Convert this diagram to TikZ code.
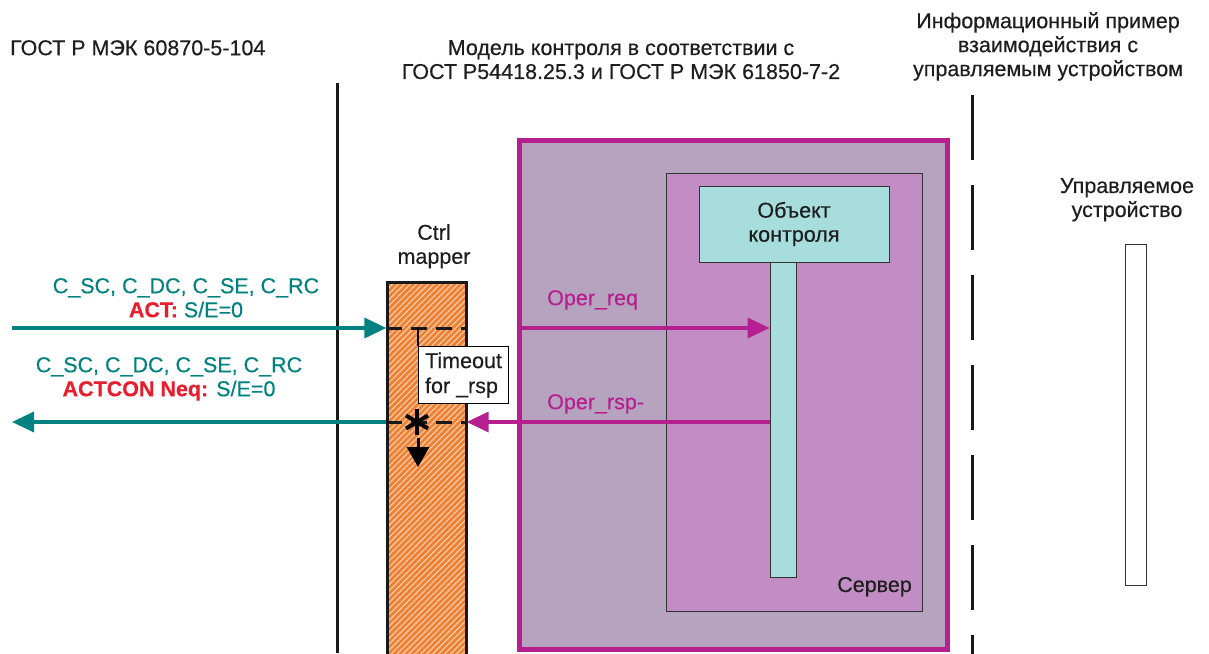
\documentclass[tikz,border=0pt]{standalone}
\usepackage{fontspec}
\setmainfont{Liberation Sans}
\newfontfamily\medfont{Liberation Sans}[FakeBold=0.35]
\usetikzlibrary{arrows.meta,patterns.meta}
\definecolor{tealc}{RGB}{0,130,128}
\definecolor{magc}{RGB}{182,32,142}
\definecolor{redc}{RGB}{230,30,45}
\definecolor{outerfill}{RGB}{181,163,192}
\definecolor{innerfill}{RGB}{194,141,196}
\definecolor{cyanfill}{RGB}{168,221,221}
\definecolor{orangefill}{RGB}{238,128,52}
\definecolor{stripe}{RGB}{250,200,160}
\definecolor{textc}{RGB}{30,30,30}
\tikzset{
  lbl/.style={inner sep=0pt, font=\medfont\fontsize{21.5}{24}\selectfont, text=textc, align=center},
  outerbox/.style={draw=magc, line width=5pt, fill=outerfill, inner sep=0pt},
  innerbox/.style={draw=black!80, line width=1pt, fill=innerfill, inner sep=0pt},
  objbox/.style={draw=black!80, line width=1pt, fill=cyanfill, inner sep=0pt},
  mapperbox/.style={draw=black!90, line width=3pt, inner sep=0pt,
     preaction={fill=orangefill},
     pattern={Lines[angle=45,distance=4.2pt,line width=1.3pt]}, pattern color=stripe},
  devbox/.style={draw=black!80, line width=1pt, fill=white, inner sep=0pt},
  tobox/.style={draw=black, line width=1pt, fill=white, inner sep=0pt, inner xsep=5pt, align=left,
     font=\medfont\fontsize{21.5}{25}\selectfont, text=textc},
  tealarrow/.style={draw=tealc, line width=3.5pt, -{Triangle[length=22pt,width=20pt]}},
  magarrow/.style={draw=magc, line width=3.5pt, -{Triangle[length=22pt,width=20pt]}},
  dashline/.style={draw=black!90, line width=3pt, dash pattern=on 16pt off 9pt},
  divider/.style={draw=black!90, line width=3pt},
  dashdivider/.style={draw=black!90, line width=3pt, dash pattern=on 65pt off 25pt},
  redbit/.style={},
}
\newcommand{\redtxt}[1]{{\color{redc}\bfseries #1}}
\begin{document}
\begin{tikzpicture}[x=1pt,y=-1pt]
\useasboundingbox[fill=white] (0,0) rectangle (1209,653);

% headers
\node[lbl, anchor=north west] (h1) at (10,40) {ГОСТ Р МЭК 60870-5-104};
\node[lbl, anchor=north] (h2) at (621,40) {Модель контроля в соответствии с\\ГОСТ Р54418.25.3 и ГОСТ Р МЭК 61850-7-2};
\node[lbl, anchor=north] (h3) at (1048,12) {Информационный пример\\взаимодействия с\\управляемым устройством};

% dividers
\coordinate (l1) at (337,83);
\coordinate (l2) at (337,653);
\draw[divider] (l1) -- (l2);
\coordinate (r1) at (972,95);
\coordinate (r2) at (972,660);
\draw[dashdivider] (r1) -- (r2);

% server boxes
\node[outerbox, minimum width=428pt, minimum height=509pt] (server) at (733,394.5) {};
\node[innerbox, minimum width=256pt, minimum height=438pt] (inner) at (794,392) {};
\node[objbox, minimum width=26pt, minimum height=315pt] (lifeline) at (783,419.5) {};
\node[objbox, minimum width=190pt, minimum height=76pt, lbl] (obj) at (794,224) {Объект\\контроля};
\node[lbl, anchor=base east] (srv) at (912,592) {Сервер};

% device
\node[lbl, anchor=north] (devl) at (1127,178) {Управляемое\\устройство};
\node[devbox, minimum width=21pt, minimum height=341pt] (dev) at (1135.5,414.5) {};

% mapper
\node[lbl, anchor=north] (mapl) at (434,224) {Ctrl\\mapper};
\node[mapperbox, minimum width=79pt, minimum height=378pt] (mapper) at (426.5,471) {};

\coordinate (tin) at (12,328);
\coordinate (tout) at (12,422);

\draw[dashline] (mapper.west |- tin) -- (mapper.east |- tin);
\draw[dashline] (mapper.west |- tout) -- (mapper.east |- tout);

% timeout
\node[tobox, minimum width=90pt, minimum height=57pt, anchor=north west] (timeout) at (418,346) {Timeout\\for \_rsp};
\draw[black, line width=2pt] (timeout.north west) -- (timeout.north west |- tin);

% star and down arrow
\coordinate (star) at (417,422);
\draw[black, line width=4pt] (star) ++(0,-13) -- ++(0,26);
\draw[black, line width=4pt] (star) ++(-11,-6.5) -- ++(22,13);
\draw[black, line width=4pt] (star) ++(-11,6.5) -- ++(22,-13);
\coordinate (da1) at (418,438);
\coordinate (da2) at (418,467);
\draw[black, line width=3pt, -{Triangle[length=20pt,width=22pt]}] (da1) -- (da2);

% arrows
\draw[tealarrow] (tin) -- (tin -| mapper.west);
\draw[tealarrow] (tout -| mapper.west) -- (tout);
\draw[magarrow] (server.west |- tin) -- (lifeline.west |- tin);
\draw[magarrow] (lifeline.west |- tout) -- (mapper.east |- tout);

% labels
\node[lbl, anchor=north, text=tealc] (act) at (186,278) {C\_SC, C\_DC, C\_SE, C\_RC\\\redtxt{ACT:} S/E=0};
\node[lbl, anchor=north, text=tealc] (actcon) at (169,357) {C\_SC, C\_DC, C\_SE, C\_RC\\\redtxt{ACTCON Neq:} S/E=0};
\node[lbl, anchor=north west, text=magc] (oreq) at (547,290) {Oper\_req};
\node[lbl, anchor=north west, text=magc] (orsp) at (547,394) {Oper\_rsp-};
\end{tikzpicture}
\end{document}
